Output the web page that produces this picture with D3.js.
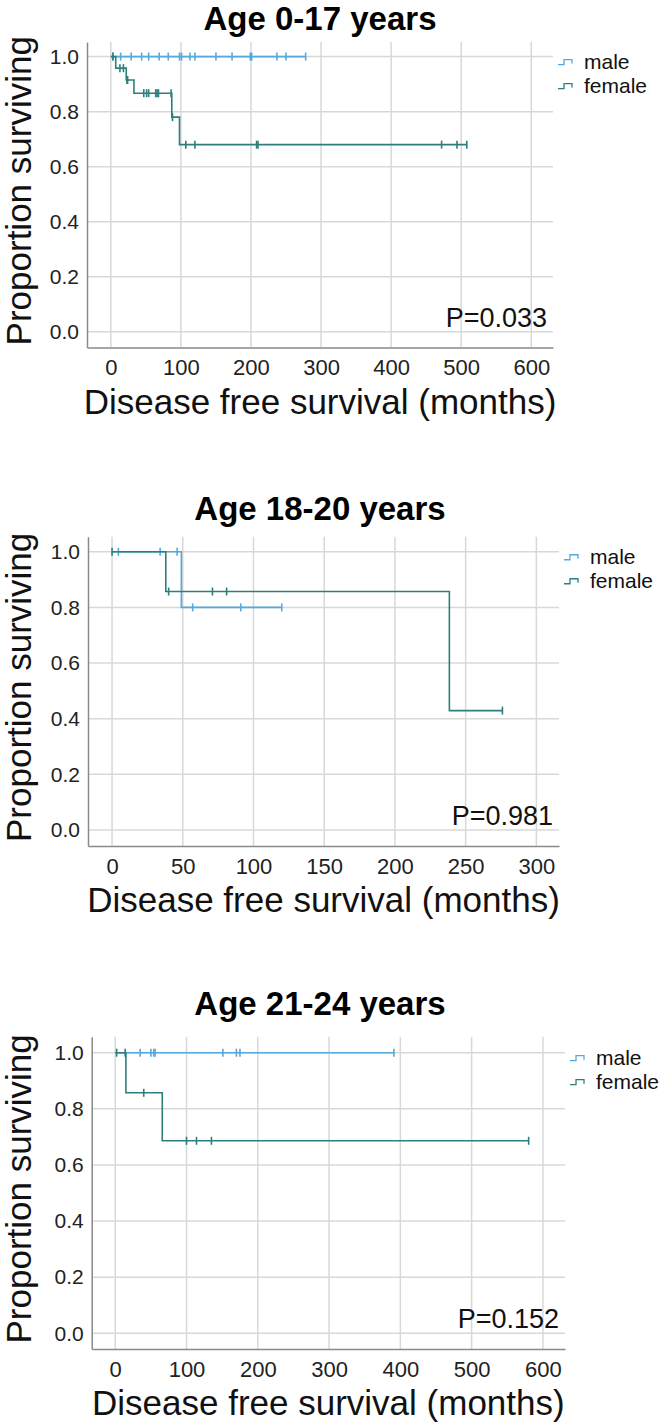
<!DOCTYPE html>
<html>
<head>
<meta charset="utf-8">
<script src="https://cdn.jsdelivr.net/npm/d3@7"></script>
<style>
  html, body { margin: 0; padding: 0; background: #fff; }
  svg { display: block; font-family: "Liberation Sans", Arial, sans-serif; }
</style>
</head>
<body>
<svg id="chart" width="666" height="1423"></svg>
<script>
// ---------- data ----------
const titles = ["Age 0-17 years", "Age 18-20 years", "Age 21-24 years"];
const pValues = ["P=0.033", "P=0.981", "P=0.152"];
const seriesNames = ["male", "female"];
const yTicks = [0.0, 0.2, 0.4, 0.6, 0.8, 1.0];
const xTicks1 = [0, 100, 200, 300, 400, 500, 600];
const xTicks2 = [0, 50, 100, 150, 200, 250, 300];
const xTicks3 = [0, 100, 200, 300, 400, 500, 600];

// Kaplan-Meier steps: [time, survival after that time]
const p1MaleSteps = [[0, 1], [278, 1]];
const p1MaleCensor = [3, 14, 29, 44, 54, 69, 82, 98, 101, 113, 120, 150, 173, 199, 201, 237, 250, 278];
const p1FemaleSteps = [[0, 1], [7, 0.958], [22, 0.915], [33, 0.867], [87, 0.78], [98, 0.68], [508, 0.68]];
const p1FemaleCensor = [3, 13, 18, 23, 24, 47, 51, 54, 64, 66, 68, 86, 88, 107, 120, 208, 210, 472, 494, 508];

const p2MaleSteps = [[0, 1], [49, 0.8], [120, 0.8]];
const p2MaleCensor = [4.5, 34, 46, 57, 91, 120];
const p2FemaleSteps = [[0, 1], [38, 0.857], [238.5, 0.429], [276, 0.429]];
const p2FemaleCensor = [0, 40, 71, 81, 276];

const p3MaleSteps = [[0, 1], [391, 1]];
const p3MaleCensor = [35, 50, 54, 56, 151, 170, 175, 391];
const p3FemaleSteps = [[0, 1], [15, 0.857], [66, 0.686], [580, 0.686]];
const p3FemaleCensor = [2, 14, 40, 100, 114, 135, 580];

// ---------- layout ----------
const colors = { male: "#55a9dd", female: "#2c7f7c" };
const panels = [
  { title: titles[0], p: pValues[0], xTicks: xTicks1, xDomain: [-34, 631], yDomain: [-0.057, 1.053],
    left: 87, right: 553, top: 42, bottom: 347.5, titleY: 30,
    male: [p1MaleSteps, p1MaleCensor], female: [p1FemaleSteps, p1FemaleCensor] },
  { title: titles[1], p: pValues[1], xTicks: xTicks2, xDomain: [-17, 316], yDomain: [-0.0575, 1.054],
    left: 88, right: 559, top: 536.7, bottom: 846, titleY: 520,
    male: [p2MaleSteps, p2MaleCensor], female: [p2FemaleSteps, p2FemaleCensor] },
  { title: titles[2], p: pValues[2], xTicks: xTicks3, xDomain: [-33, 631], yDomain: [-0.056, 1.057],
    left: 91.7, right: 565, top: 1036.7, bottom: 1349, titleY: 1015,
    male: [p3MaleSteps, p3MaleCensor], female: [p3FemaleSteps, p3FemaleCensor] }
];

const svg = d3.select("#chart");

function survAt(steps, t) {
  let s = steps[0][1];
  for (const [time, v] of steps) { if (time <= t) s = v; }
  return s;
}

panels.forEach(pn => {
  const g = svg.append("g");
  const x = d3.scaleLinear().domain(pn.xDomain).range([pn.left, pn.right]);
  const y = d3.scaleLinear().domain(pn.yDomain).range([pn.bottom, pn.top]);

  // grid
  g.append("g").selectAll("line").data(yTicks).join("line")
    .attr("x1", pn.left).attr("x2", pn.right)
    .attr("y1", d => y(d)).attr("y2", d => y(d))
    .attr("stroke", "#d8d8d8").attr("stroke-width", 1.5);
  g.append("g").selectAll("line").data(pn.xTicks).join("line")
    .attr("x1", d => x(d)).attr("x2", d => x(d))
    .attr("y1", pn.top).attr("y2", pn.bottom)
    .attr("stroke", "#d8d8d8").attr("stroke-width", 1.5);

  // axes
  const yAxis = d3.axisLeft(y).tickValues(yTicks).tickFormat(d3.format(".1f")).tickSize(0).tickPadding(8);
  const ya = g.append("g").attr("transform", `translate(${pn.left},0)`).call(yAxis);
  ya.select(".domain").attr("stroke", "#8a8a8a").attr("stroke-width", 1.5);
  ya.selectAll("text").attr("font-size", 21).attr("fill", "#222").attr("font-family", "Liberation Sans, Arial");

  const xAxis = d3.axisBottom(x).tickValues(pn.xTicks).tickSize(0).tickPadding(12);
  const xa = g.append("g").attr("transform", `translate(0,${pn.bottom})`).call(xAxis);
  xa.select(".domain").attr("stroke", "#8a8a8a").attr("stroke-width", 1.5);
  xa.selectAll("text").attr("font-size", 22).attr("fill", "#222").attr("font-family", "Liberation Sans, Arial");

  // axis titles
  g.append("text").attr("x", (pn.left + pn.right) / 2).attr("y", pn.bottom + 66)
    .attr("text-anchor", "middle").attr("font-size", 35).attr("fill", "#111")
    .text("Disease free survival (months)");
  g.append("text")
    .attr("transform", `translate(31,${(pn.top + pn.bottom) / 2 - 4}) rotate(-90)`)
    .attr("text-anchor", "middle").attr("font-size", 35).attr("fill", "#111")
    .text("Proportion surviving");

  // title
  g.append("text").attr("x", 320).attr("y", pn.titleY)
    .attr("text-anchor", "middle").attr("font-size", 33).attr("font-weight", "bold").attr("fill", "#000")
    .text(pn.title);

  // p-value
  g.append("text").attr("x", pn.right - 6).attr("y", y(0) - 5)
    .attr("text-anchor", "end").attr("font-size", 27).attr("fill", "#111")
    .text(pn.p);

  // curves
  ["male", "female"].forEach(key => {
    const [steps, cens] = pn[key];
    const line = d3.line().x(d => x(d[0])).y(d => y(d[1])).curve(d3.curveStepAfter);
    g.append("path").datum(steps).attr("d", line)
      .attr("fill", "none").attr("stroke", colors[key]).attr("stroke-width", 1.6);
    g.append("g").selectAll("line").data(cens).join("line")
      .attr("x1", d => x(d)).attr("x2", d => x(d))
      .attr("y1", d => y(survAt(steps, d)) - 4).attr("y2", d => y(survAt(steps, d)) + 4)
      .attr("stroke", colors[key]).attr("stroke-width", 1.6);
  });

  // legend
  const lg = g.append("g");
  seriesNames.forEach((name, i) => {
    const by = y(1) + 12 + i * 24;
    const sx = pn.right + 5;
    lg.append("path")
      .attr("d", `M${sx},${by - 4} h6 v-5 h8 v4`)
      .attr("fill", "none").attr("stroke", colors[name]).attr("stroke-width", 1.3);
    lg.append("text").attr("x", pn.right + 31).attr("y", by)
      .attr("font-size", 21).attr("fill", "#111").text(name);
  });
});
</script>
</body>
</html>
